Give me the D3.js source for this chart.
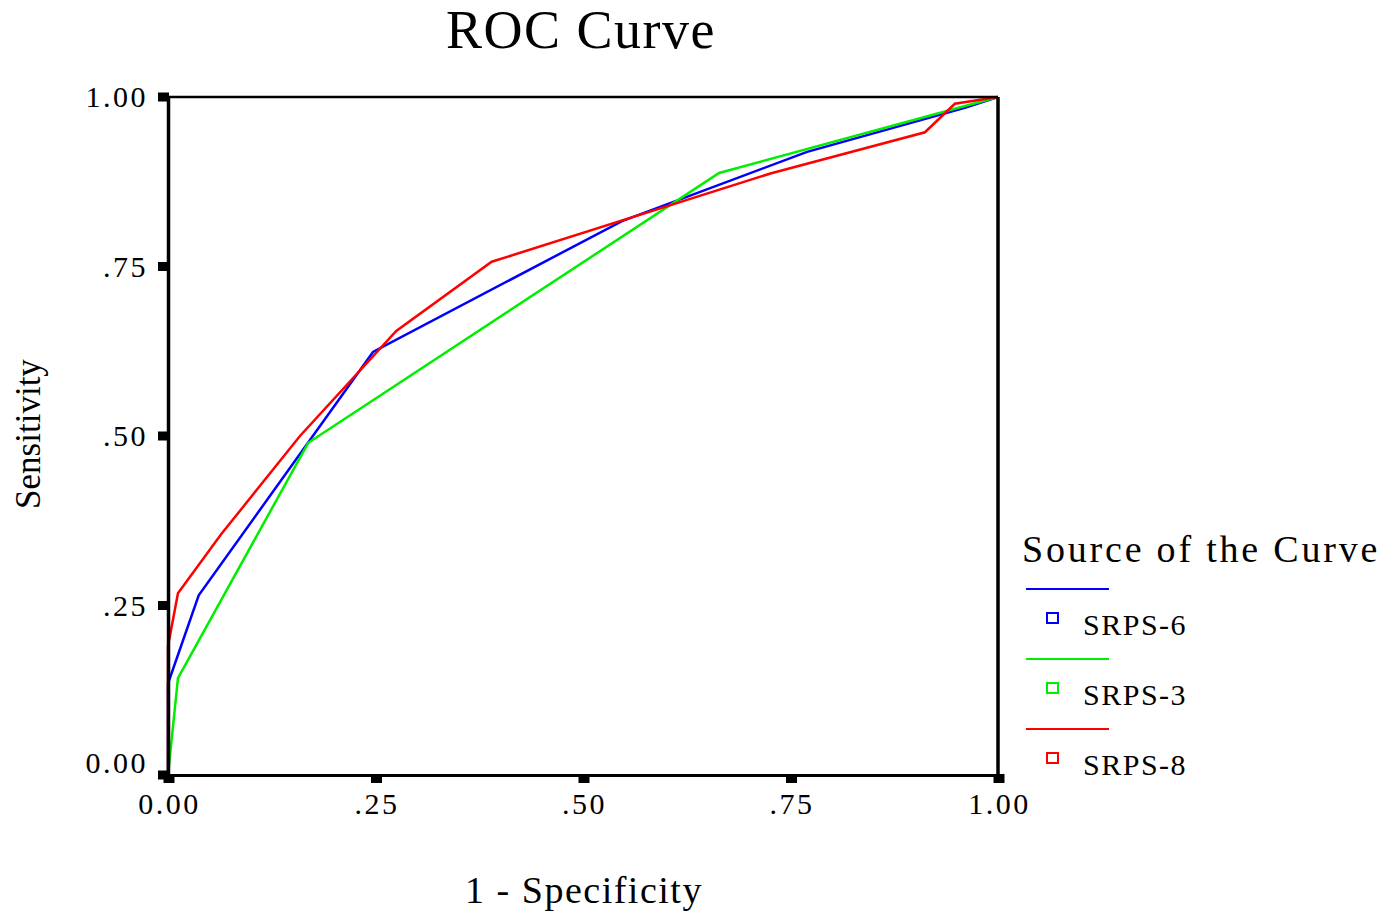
<!DOCTYPE html>
<html lang="en">
<head>
  <meta charset="UTF-8">
  <title>ROC Curve</title>
  <script src="https://d3js.org/d3.v7.min.js"></script>
  <style>
    body { margin: 0; background: white; }
    svg text { font-family: "Liberation Serif", "Times New Roman", serif; fill: #000; }
    .tick text { font-size: 30px; letter-spacing: 2.5px; }
  </style>
</head>
<body>
  <svg id="chart" width="1387" height="914"></svg>

  <script>
    // ROC points (1 - specificity, sensitivity)
    const srps6X = [0, 0, 0.037, 0.247, 0.547, 0.770, 0.960, 1];
    const srps6Y = [0, 0.135, 0.265, 0.624, 0.817, 0.919, 0.984, 1];
    const srps3X = [0, 0.012, 0.169, 0.664, 1];
    const srps3Y = [0, 0.143, 0.490, 0.888, 1];
    const srps8X = [0, 0, 0.012, 0.064, 0.159, 0.275, 0.390, 0.728, 0.912, 0.948, 1];
    const srps8Y = [0, 0.19, 0.268, 0.355, 0.500, 0.655, 0.757, 0.888, 0.948, 0.990, 1];

    const seriesNames = ["SRPS-6", "SRPS-3", "SRPS-8"];
    const seriesColors = ["#0000ff", "#00ee00", "#ff0000"];
    const tickValues = [0, 0.25, 0.5, 0.75, 1];
    const tickLabels = ["0.00", ".25", ".50", ".75", "1.00"];

    const series = [
      { name: seriesNames[0], color: seriesColors[0], pts: srps6X.map((x, i) => [x, srps6Y[i]]) },
      { name: seriesNames[1], color: seriesColors[1], pts: srps3X.map((x, i) => [x, srps3Y[i]]) },
      { name: seriesNames[2], color: seriesColors[2], pts: srps8X.map((x, i) => [x, srps8Y[i]]) }
    ];

    const svg = d3.select("#chart");
    const margin = { top: 97, right: 389, bottom: 139, left: 168 };
    const width = +svg.attr("width") - margin.left - margin.right;
    const height = +svg.attr("height") - margin.top - margin.bottom;
    const g = svg.append("g").attr("transform", `translate(${margin.left},${margin.top})`);

    const x = d3.scaleLinear().domain([0, 1]).range([0, width]);
    const y = d3.scaleLinear().domain([0, 1]).range([height, 0]);

    // title and axis titles
    svg.append("text")
      .attr("x", 581).attr("y", 48)
      .attr("text-anchor", "middle")
      .style("font-size", "54px").style("letter-spacing", "1.5px")
      .text("ROC Curve");

    svg.append("text")
      .attr("x", 584).attr("y", 903)
      .attr("text-anchor", "middle")
      .style("font-size", "38px").style("letter-spacing", "1.5px")
      .text("1 - Specificity");

    svg.append("text")
      .attr("transform", "translate(40,434) rotate(-90)")
      .attr("text-anchor", "middle")
      .style("font-size", "35px")
      .text("Sensitivity");

    // curves (drawn under the axes)
    const line = d3.line().x(d => x(d[0])).y(d => y(d[1]));
    g.selectAll(".curve")
      .data(series)
      .enter().append("path")
      .attr("class", "curve")
      .attr("d", d => line(d.pts))
      .attr("fill", "none")
      .attr("stroke", d => d.color)
      .attr("stroke-width", 2.5);

    // frame
    const frame = g.append("g");
    frame.append("line").attr("x1", 0).attr("x2", width).attr("y1", 0).attr("y2", 0)
      .attr("stroke", "#000").attr("stroke-width", 2.5);
    frame.append("line").attr("x1", width).attr("x2", width).attr("y1", 0).attr("y2", height)
      .attr("stroke", "#000").attr("stroke-width", 3.5);

    // axes
    const yAxis = g.append("g")
      .call(d3.axisLeft(y).tickValues(tickValues).tickFormat((d, i) => tickLabels[i]).tickSize(0).tickPadding(20));
    yAxis.select(".domain").attr("stroke", "#000").attr("stroke-width", 3.5);
    yAxis.selectAll(".tick text").attr("dy", (d) => d === 0 ? "-0.08em" : "0.32em");
    yAxis.selectAll(".tick").append("rect")
      .attr("x", -10).attr("y", -5).attr("width", 11).attr("height", 9).attr("fill", "#000");

    const xAxis = g.append("g")
      .attr("transform", `translate(0,${height})`)
      .call(d3.axisBottom(x).tickValues(tickValues).tickFormat((d, i) => tickLabels[i]).tickSize(0).tickPadding(18));
    xAxis.select(".domain").attr("stroke", "#000").attr("stroke-width", 3);
    xAxis.selectAll(".tick text").attr("dx", "1px");
    xAxis.selectAll(".tick").append("rect")
      .attr("x", -5).attr("y", -1).attr("width", 11).attr("height", 9).attr("fill", "#000");

    // legend
    const legend = svg.append("g").attr("transform", "translate(1022,0)");
    legend.append("text")
      .attr("x", 0).attr("y", 562)
      .style("font-size", "38px").style("letter-spacing", "2.8px")
      .text("Source of the Curve");

    const item = legend.selectAll(".item")
      .data(series)
      .enter().append("g")
      .attr("class", "item")
      .attr("transform", (d, i) => `translate(0,${589 + i * 70})`);
    item.append("line")
      .attr("x1", 4).attr("x2", 87).attr("y1", 0).attr("y2", 0)
      .attr("stroke", d => d.color).attr("stroke-width", 2);
    item.append("rect")
      .attr("x", 25).attr("y", 24).attr("width", 11).attr("height", 10)
      .attr("fill", "none").attr("stroke", d => d.color).attr("stroke-width", 2);
    item.append("text")
      .attr("x", 61).attr("y", 46)
      .style("font-size", "30px").style("letter-spacing", "1.5px")
      .text(d => d.name);
  </script>
</body>
</html>
